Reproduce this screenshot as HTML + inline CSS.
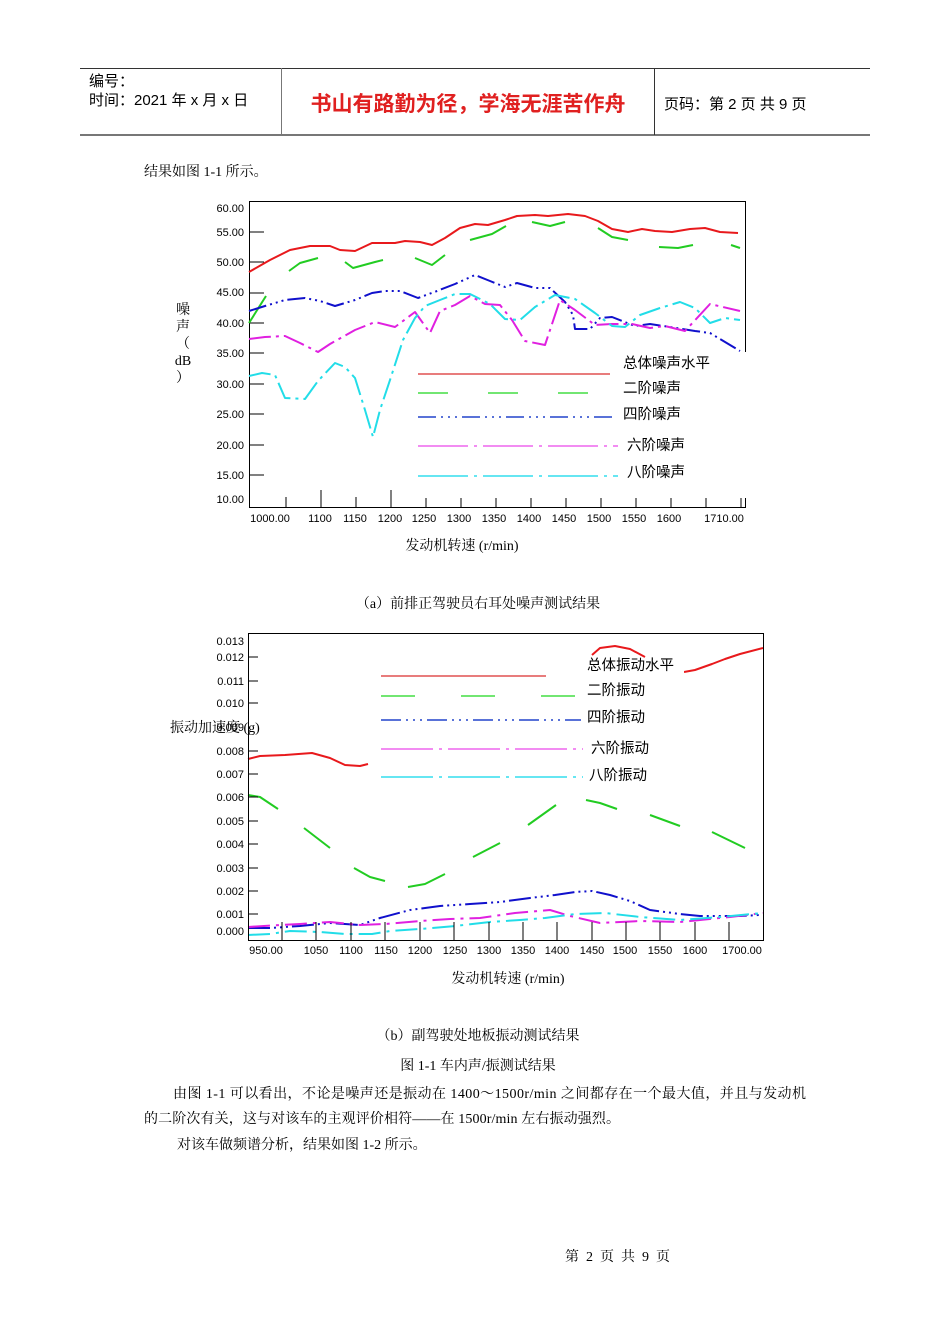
<!DOCTYPE html>
<html><head><meta charset="utf-8"><style>
html,body{margin:0;padding:0;background:#fff;}
svg{display:block;}
.t{font-family:"Liberation Sans",sans-serif;font-size:11px;fill:#000;}
.c{font-family:"Liberation Serif","Noto Serif CJK SC",serif;font-size:14px;fill:#000;}
.h{font-family:"Liberation Sans","Noto Sans CJK SC",sans-serif;fill:#000;}
.l{font-family:"Liberation Sans","Noto Sans CJK SC",sans-serif;font-size:14.5px;fill:#000;}
</style></head><body>
<svg width="950" height="1344" viewBox="0 0 950 1344" xmlns="http://www.w3.org/2000/svg">
<!-- header -->
<line x1="80" y1="68.5" x2="870" y2="68.5" stroke="#333" stroke-width="1"/>
<line x1="80" y1="135" x2="870" y2="135" stroke="#777" stroke-width="2"/>
<line x1="281.5" y1="68" x2="281.5" y2="135" stroke="#777"/>
<line x1="654.5" y1="68" x2="654.5" y2="135" stroke="#333"/>
<text class="h" x="89" y="86" font-size="15">编号：</text>
<text class="h" x="89" y="105" font-size="15">时间：2021 年 x 月 x 日</text>
<text class="h" x="468" y="111" font-size="21" font-weight="bold" style="fill:#e02020" text-anchor="middle">书山有路勤为径，学海无涯苦作舟</text>
<text class="h" x="664" y="109" font-size="15">页码：第 2 页 共 9 页</text>
<text class="c" x="144" y="176">结果如图 1-1 所示。</text>

<!-- chart 1 -->
<rect x="249.5" y="201.5" width="496" height="306" fill="none" stroke="#000"/>
<g class="t" text-anchor="end">
<text x="244" y="212">60.00</text><text x="244" y="236">55.00</text><text x="244" y="266">50.00</text>
<text x="244" y="296">45.00</text><text x="244" y="327">40.00</text><text x="244" y="357">35.00</text>
<text x="244" y="388">30.00</text><text x="244" y="418">25.00</text><text x="244" y="449">20.00</text>
<text x="244" y="479">15.00</text><text x="244" y="503">10.00</text>
</g>
<g stroke="#000">
<line x1="249" y1="232" x2="264" y2="232"/><line x1="249" y1="262" x2="264" y2="262"/><line x1="249" y1="293" x2="264" y2="293"/>
<line x1="249" y1="323" x2="264" y2="323"/><line x1="249" y1="353" x2="264" y2="353"/><line x1="249" y1="384" x2="264" y2="384"/>
<line x1="249" y1="414" x2="264" y2="414"/><line x1="249" y1="445" x2="264" y2="445"/><line x1="249" y1="475" x2="264" y2="475"/>
<line x1="286" y1="507" x2="286" y2="497"/><line x1="321" y1="507" x2="321" y2="490"/><line x1="356" y1="507" x2="356" y2="497"/>
<line x1="391" y1="507" x2="391" y2="490"/><line x1="426" y1="507" x2="426" y2="497"/><line x1="461" y1="507" x2="461" y2="490"/>
<line x1="496" y1="507" x2="496" y2="497"/><line x1="531" y1="507" x2="531" y2="490"/><line x1="566" y1="507" x2="566" y2="497"/>
<line x1="601" y1="507" x2="601" y2="490"/><line x1="636" y1="507" x2="636" y2="497"/><line x1="671" y1="507" x2="671" y2="490"/>
<line x1="706" y1="507" x2="706" y2="497"/><line x1="741" y1="507" x2="741" y2="490"/>
</g>
<g class="t" text-anchor="middle">
<text x="270" y="522">1000.00</text><text x="320" y="522">1100</text><text x="355" y="522">1150</text><text x="390" y="522">1200</text>
<text x="424" y="522">1250</text><text x="459" y="522">1300</text><text x="494" y="522">1350</text><text x="529" y="522">1400</text>
<text x="564" y="522">1450</text><text x="599" y="522">1500</text><text x="634" y="522">1550</text><text x="669" y="522">1600</text>
<text x="724" y="522">1710.00</text>
</g>
<g class="c" font-size="13" text-anchor="middle">
<text x="183" y="314">噪</text><text x="183" y="331">声</text><text x="183" y="348">（</text><text x="183" y="365">dB</text><text x="183" y="382">）</text>
</g>
<g fill="none" stroke-width="2" stroke-linejoin="round">
<polyline stroke="#e8191c" points="249,272 270,260 290,250 310,246 330,246 340,250 355,251 372,243 395,243 405,241 420,242 432,245 445,238 460,228 475,224 488,225 505,220 517,216 535,215 548,216 568,214 585,216 598,221 612,229 628,232 642,229 655,231 672,232 690,229 705,228 720,232 738,233"/>
<g stroke="#22cc22">
<polyline points="249,323 266,296"/><polyline points="289,271 300,263 318,258"/><polyline points="345,262 353,268 375,262 383,260"/>
<polyline points="415,258 432,265 445,255"/><polyline points="470,240 492,234 506,226"/><polyline points="532,222 550,226 565,222"/>
<polyline points="598,228 612,237 628,240"/><polyline points="659,247 678,248 693,245"/><polyline points="731,245 740,248"/>
</g>
<polyline stroke="#1010cc" stroke-dasharray="18,4,2,4,2,4,2,4" points="249,311 265,306 285,300 305,298 320,301 335,306 355,300 372,293 385,291 400,291 418,298 437,291 455,284 475,275 490,281 505,287 517,283 535,288 550,288 565,302 573,315 575,329 590,329 600,318 612,317 635,326 650,324 670,327 695,331 710,333 740,351"/>
<polyline stroke="#e020e0" stroke-dasharray="22,5,3,5" points="249,339 265,337 285,336 300,343 318,352 330,344 355,330 375,322 395,327 415,312 430,333 440,311 455,305 470,296 485,304 500,305 512,320 525,341 545,345 560,300 575,310 595,325 612,324 632,324 650,328 665,326 685,331 710,304 740,311"/>
<polyline stroke="#22dde8" stroke-dasharray="22,5,3,5" points="249,376 262,373 275,375 285,398 305,399 318,381 335,363 345,367 355,378 365,410 373,437 380,410 390,380 403,340 415,318 425,306 440,300 455,294 470,294 490,304 505,319 520,320 535,307 555,295 575,299 595,313 612,326 625,327 640,315 660,308 680,302 695,308 710,323 725,318 740,320"/>
</g>
<rect x="410" y="352" width="337" height="146" fill="#fff"/>
<g stroke-width="1.5">
<line x1="418" y1="374" x2="610" y2="374" stroke="#e05050"/>
<line x1="418" y1="393" x2="610" y2="393" stroke="#44dd44" stroke-dasharray="30,40"/>
<line x1="418" y1="417" x2="615" y2="417" stroke="#2244cc" stroke-dasharray="18,5,2,5,2,5,2,5"/>
<line x1="418" y1="446" x2="618" y2="446" stroke="#ee66ee" stroke-dasharray="50,6,3,6"/>
<line x1="418" y1="476" x2="618" y2="476" stroke="#33ddee" stroke-dasharray="50,6,3,6"/>
</g>
<g class="l">
<text x="623" y="368">总体噪声水平</text><text x="623" y="393">二阶噪声</text><text x="623" y="419">四阶噪声</text>
<text x="627" y="450">六阶噪声</text><text x="627" y="477">八阶噪声</text>
</g>
<text class="c" x="462" y="550" text-anchor="middle">发动机转速 (r/min)</text>
<text class="c" x="478" y="608" font-size="13" text-anchor="middle">（a）前排正驾驶员右耳处噪声测试结果</text>

<!-- chart 2 -->
<g class="t" text-anchor="end">
<text x="244" y="645">0.013</text><text x="244" y="661">0.012</text><text x="244" y="685">0.011</text><text x="244" y="707">0.010</text>
<text x="244" y="731">0.009</text><text x="244" y="755">0.008</text><text x="244" y="778">0.007</text><text x="244" y="801">0.006</text>
<text x="244" y="825">0.005</text><text x="244" y="848">0.004</text><text x="244" y="872">0.003</text><text x="244" y="895">0.002</text>
<text x="244" y="918">0.001</text><text x="244" y="935">0.000</text>
</g>
<text class="c" x="170" y="732">振动加速度 (g)</text>
<g fill="none" stroke-width="2" stroke-linejoin="round">
<polyline stroke="#e8191c" points="248,759 260,756 285,755 312,753 330,758 345,765 360,766 368,764"/>
<polyline stroke="#e8191c" points="592,655 600,648 615,646 630,649 645,657"/>
<polyline stroke="#e8191c" points="684,672 695,670 712,664 725,659 740,654 763,648"/>
<g stroke="#22cc22">
<polyline points="248,795 260,797 278,809"/><polyline points="304,828 330,848"/><polyline points="354,868 370,877 385,881"/>
<polyline points="408,887 425,884 445,874"/><polyline points="473,857 500,843"/><polyline points="528,825 556,805"/>
<polyline points="586,800 600,803 617,809"/><polyline points="650,815 680,826"/><polyline points="712,832 745,848"/>
</g>
<polyline stroke="#1010cc" stroke-dasharray="22,4,2,4,2,4,2,4" points="248,928 270,928 300,926 330,923 360,925 380,918 410,910 440,906 470,904 500,902 530,898 555,895 575,892 592,891 610,895 630,901 650,910 680,914 700,916 740,916 760,915"/>
<polyline stroke="#e020e0" stroke-dasharray="22,6,3,6" points="248,927 280,925 300,924 330,922 360,925 385,924 420,921 450,919 480,918 515,913 550,910 570,916 600,923 640,921 680,922 700,920 730,917 763,913"/>
<polyline stroke="#22dde8" stroke-dasharray="22,6,3,6" points="248,935 270,934 290,931 320,932 345,934 372,934 390,931 420,929 455,926 490,922 520,920 545,918 575,914 605,913 640,917 680,920 720,917 763,913"/>
</g>
<rect x="370" y="658" width="314" height="132" fill="#fff"/>
<rect x="248.5" y="633.5" width="515" height="307" fill="none" stroke="#000"/>
<g stroke="#000">
<line x1="248" y1="657" x2="258" y2="657"/><line x1="248" y1="681" x2="258" y2="681"/><line x1="248" y1="703" x2="258" y2="703"/>
<line x1="248" y1="751" x2="258" y2="751"/><line x1="248" y1="774" x2="258" y2="774"/><line x1="248" y1="797" x2="258" y2="797"/>
<line x1="248" y1="821" x2="258" y2="821"/><line x1="248" y1="844" x2="258" y2="844"/><line x1="248" y1="868" x2="258" y2="868"/>
<line x1="248" y1="891" x2="258" y2="891"/><line x1="248" y1="914" x2="258" y2="914"/>
<line x1="282" y1="940" x2="282" y2="922"/><line x1="316" y1="940" x2="316" y2="922"/><line x1="351" y1="940" x2="351" y2="922"/>
<line x1="385" y1="940" x2="385" y2="922"/><line x1="420" y1="940" x2="420" y2="922"/><line x1="454" y1="940" x2="454" y2="922"/>
<line x1="489" y1="940" x2="489" y2="922"/><line x1="523" y1="940" x2="523" y2="922"/><line x1="557" y1="940" x2="557" y2="922"/>
<line x1="592" y1="940" x2="592" y2="922"/><line x1="626" y1="940" x2="626" y2="922"/><line x1="660" y1="940" x2="660" y2="922"/>
<line x1="695" y1="940" x2="695" y2="922"/><line x1="729" y1="940" x2="729" y2="922"/>
</g>
<g class="t" text-anchor="middle">
<text x="266" y="954">950.00</text><text x="316" y="954">1050</text><text x="351" y="954">1100</text><text x="386" y="954">1150</text>
<text x="420" y="954">1200</text><text x="455" y="954">1250</text><text x="489" y="954">1300</text><text x="523" y="954">1350</text>
<text x="557" y="954">1400</text><text x="592" y="954">1450</text><text x="625" y="954">1500</text><text x="660" y="954">1550</text>
<text x="695" y="954">1600</text><text x="742" y="954">1700.00</text>
</g>
<g stroke-width="1.5">
<line x1="381" y1="676" x2="546" y2="676" stroke="#e05050"/>
<line x1="381" y1="696" x2="576" y2="696" stroke="#44dd44" stroke-dasharray="34,46"/>
<line x1="381" y1="720" x2="581" y2="720" stroke="#2244cc" stroke-dasharray="20,5,2,5,2,5,2,5"/>
<line x1="381" y1="749" x2="583" y2="749" stroke="#ee66ee" stroke-dasharray="52,6,3,6"/>
<line x1="381" y1="777" x2="583" y2="777" stroke="#33ddee" stroke-dasharray="52,6,3,6"/>
</g>
<g class="l">
<text x="587" y="670">总体振动水平</text><text x="587" y="695">二阶振动</text><text x="587" y="722">四阶振动</text>
<text x="591" y="753">六阶振动</text><text x="589" y="780">八阶振动</text>
</g>
<text class="c" x="508" y="983" text-anchor="middle">发动机转速 (r/min)</text>
<text class="c" x="478" y="1040" font-size="13" text-anchor="middle">（b）副驾驶处地板振动测试结果</text>
<text class="c" x="478" y="1070" font-size="13" text-anchor="middle">图 1-1  车内声/振测试结果</text>
<text class="c" x="173" y="1098" font-size="13.5" textLength="633" lengthAdjust="spacing">由图 1-1 可以看出，不论是噪声还是振动在 1400～1500r/min 之间都存在一个最大值，并且与发动机</text>
<text class="c" x="144" y="1123" font-size="13.5" textLength="476" lengthAdjust="spacing">的二阶次有关，这与对该车的主观评价相符——在 1500r/min 左右振动强烈。</text>
<text class="c" x="177" y="1149" font-size="13.5">对该车做频谱分析，结果如图 1-2 所示。</text>
<text class="c" x="565" y="1261" font-size="13" textLength="105" lengthAdjust="spacing">第 2 页 共 9 页</text>
</svg>
</body></html>
